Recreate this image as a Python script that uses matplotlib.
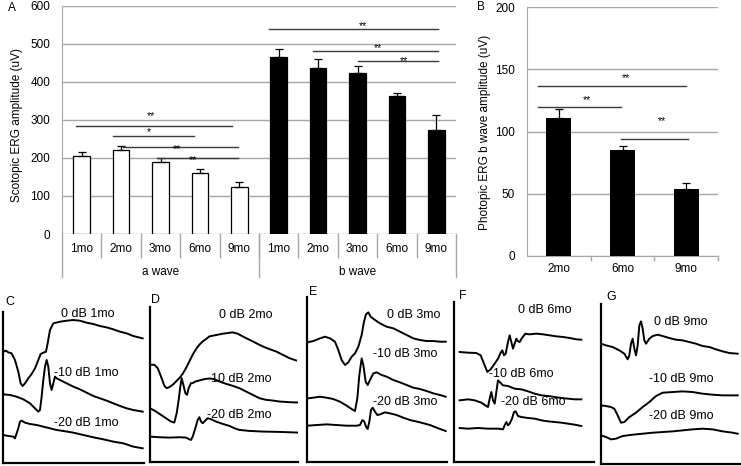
import matplotlib
matplotlib.use("Agg")
import matplotlib.pyplot as plt
import matplotlib.transforms as mtransforms

plt.rcParams['font.family'] = ['Liberation Sans', 'DejaVu Sans']

W, H = 741, 466

# ---- panel A : scotopic ERG ----
a_months = ["1mo", "2mo", "3mo", "6mo", "9mo"]
a_wave = [205, 220, 190, 160, 125]
a_wave_err = [10, 12, 10, 12, 13]
b_wave = [465, 438, 425, 362, 275]
b_wave_err = [23, 22, 18, 10, 38]
groups = ["a wave", "b wave"]
# significance: (x0, x1, y, label, text x, text y)
sig_a = [
    (-0.14, 3.81, 285, "**", 1.76, 310),
    (0.80, 2.86, 258, "*", 1.71, 268),
    (1.06, 3.97, 230, "**", 2.41, 224),
    (1.90, 3.97, 200, "**", 2.82, 195),
    (4.76, 9.05, 539, "**", 7.14, 548),
    (5.86, 9.05, 482, "**", 7.51, 488),
    (7.00, 9.05, 454, "**", 8.19, 454),
]

# ---- panel B : photopic ERG ----
b_months = ["2mo", "6mo", "9mo"]
photopic = [111, 85, 54]
photopic_err = [7, 3.5, 5]
sig_b = [
    (-0.33, 2.0, 136.7, "**", 1.05, 143),
    (-0.33, 0.97, 120, "**", 0.44, 125.6),
    (0.97, 2.02, 93.8, "**", 1.62, 108.3),
]

# ---- panels C-G : ERG traces (time, amplitude in arbitrary units) ----
C_0_t = [0, 8, 15, 25, 35, 45, 52, 58, 65, 75, 85, 95, 105, 112, 120, 128, 133, 140, 150, 170, 190, 210, 230, 250, 270, 290, 310, 330, 350, 370, 390, 418]
C_0_v = [335, 338, 333, 330, 310, 275, 240, 232, 240, 255, 268, 285, 310, 328, 332, 335, 360, 400, 420, 425, 428, 430, 428, 422, 418, 412, 408, 402, 395, 390, 382, 375]
C_10_t = [0, 20, 40, 60, 80, 95, 105, 110, 115, 120, 125, 130, 135, 140, 145, 150, 155, 160, 170, 190, 210, 230, 250, 270, 290, 310, 330, 350, 370, 390, 418]
C_10_v = [207, 205, 200, 192, 180, 165, 155, 160, 200, 250, 290, 310, 290, 240, 220, 240, 260, 255, 250, 240, 230, 222, 212, 202, 195, 188, 180, 172, 165, 160, 155]
C_20_t = [0, 15, 30, 35, 40, 45, 50, 55, 65, 80, 100, 120, 140, 160, 180, 210, 240, 270, 300, 330, 360, 390, 418]
C_20_v = [85, 82, 80, 75, 90, 105, 125, 128, 122, 118, 115, 110, 105, 100, 97, 92, 85, 78, 72, 65, 60, 50, 45]

D_0_t = [0, 13, 23, 33, 43, 50, 58, 68, 78, 88, 98, 108, 118, 128, 138, 148, 158, 168, 178, 188, 203, 218, 233, 248, 263, 278, 298, 318, 338, 358, 378, 398, 418, 438]
D_0_v = [292, 292, 282, 257, 229, 222, 225, 232, 242, 252, 265, 282, 302, 322, 339, 352, 362, 369, 377, 379, 382, 385, 387, 389, 385, 377, 367, 357, 347, 339, 332, 322, 312, 305]
D_10_t = [0, 18, 33, 48, 63, 73, 80, 86, 91, 95, 100, 106, 111, 116, 123, 128, 136, 148, 163, 178, 193, 208, 228, 248, 268, 288, 308, 328, 348, 368, 388, 418, 443]
D_10_v = [162, 152, 142, 132, 122, 119, 147, 187, 227, 252, 232, 207, 202, 222, 237, 237, 242, 245, 249, 251, 249, 242, 235, 229, 222, 212, 202, 192, 187, 185, 182, 180, 179]
D_20_t = [0, 28, 58, 88, 108, 118, 123, 128, 136, 143, 148, 153, 158, 166, 173, 183, 198, 218, 238, 253, 268, 298, 338, 388, 443]
D_20_v = [77, 75, 74, 75, 74, 69, 67, 77, 102, 127, 135, 122, 117, 125, 132, 129, 122, 115, 109, 102, 97, 94, 92, 91, 89]

E_0_t = [0, 18, 38, 53, 68, 83, 93, 103, 113, 123, 133, 143, 153, 163, 170, 176, 183, 190, 203, 218, 238, 258, 278, 298, 318, 338, 358, 378, 398, 415]
E_0_v = [358, 362, 370, 375, 370, 360, 335, 305, 290, 298, 315, 325, 345, 380, 420, 442, 448, 435, 425, 415, 405, 400, 390, 380, 370, 365, 362, 362, 360, 360]
E_10_t = [0, 18, 38, 58, 78, 98, 118, 133, 143, 150, 156, 163, 168, 175, 181, 188, 198, 208, 223, 238, 258, 278, 298, 318, 338, 358, 378, 398, 415]
E_10_v = [190, 192, 195, 192, 188, 180, 168, 158, 152, 190, 260, 310, 290, 240, 230, 245, 265, 268, 260, 255, 245, 238, 230, 222, 218, 212, 205, 200, 195]
E_20_t = [0, 28, 58, 88, 118, 148, 158, 165, 171, 176, 181, 186, 191, 196, 203, 210, 218, 233, 248, 268, 288, 308, 338, 368, 393, 415]
E_20_v = [108, 110, 112, 110, 108, 108, 110, 125, 120, 105, 98, 120, 155, 162, 150, 140, 142, 148, 145, 140, 132, 125, 118, 110, 100, 92]

F_0_t = [17, 42, 67, 80, 90, 100, 110, 122, 132, 140, 145, 150, 155, 162, 167, 172, 177, 182, 187, 192, 197, 204, 214, 227, 247, 267, 287, 307, 327, 347, 367, 382]
F_0_v = [330, 328, 327, 320, 295, 270, 278, 295, 310, 328, 335, 320, 325, 360, 380, 360, 340, 355, 370, 362, 360, 372, 385, 383, 385, 383, 380, 377, 375, 372, 368, 367]
F_10_t = [17, 42, 62, 82, 97, 102, 107, 112, 117, 122, 127, 132, 137, 147, 162, 182, 202, 222, 242, 262, 282, 302, 322, 342, 362, 382]
F_10_v = [185, 188, 185, 178, 168, 165, 190, 210, 185, 175, 210, 245, 240, 230, 228, 220, 218, 212, 205, 200, 198, 195, 192, 190, 188, 188]
F_20_t = [17, 42, 72, 102, 132, 147, 152, 157, 162, 167, 174, 180, 185, 192, 202, 222, 242, 262, 282, 302, 322, 342, 362, 382]
F_20_v = [102, 100, 102, 100, 100, 98, 110, 120, 110, 115, 130, 150, 152, 138, 135, 132, 130, 125, 122, 120, 118, 115, 112, 108]

G_0_t = [0, 15, 35, 55, 70, 80, 85, 90, 95, 100, 105, 110, 115, 120, 125, 130, 135, 145, 155, 170, 185, 205, 225, 245, 265, 285, 305, 325, 345, 365, 385, 410]
G_0_v = [360, 355, 350, 340, 330, 313, 325, 360, 375, 345, 325, 355, 415, 427, 405, 370, 360, 375, 383, 387, 383, 377, 372, 370, 365, 360, 353, 350, 343, 337, 332, 330]
G_10_t = [0, 15, 30, 40, 50, 60, 70, 85, 105, 125, 145, 165, 185, 215, 245, 275, 305, 335, 365, 410]
G_10_v = [175, 173, 170, 165, 145, 123, 125, 140, 153, 170, 185, 203, 213, 215, 217, 215, 210, 207, 205, 205]
G_20_t = [0, 15, 30, 45, 65, 95, 125, 155, 185, 215, 245, 275, 305, 335, 365, 395, 410]
G_20_v = [85, 80, 73, 75, 83, 87, 90, 93, 95, 97, 100, 103, 105, 103, 97, 93, 90]

trace_panels = [
    ("C", "1mo", [(C_0_t, C_0_v), (C_10_t, C_10_v), (C_20_t, C_20_v)]),
    ("D", "2mo", [(D_0_t, D_0_v), (D_10_t, D_10_v), (D_20_t, D_20_v)]),
    ("E", "3mo", [(E_0_t, E_0_v), (E_10_t, E_10_v), (E_20_t, E_20_v)]),
    ("F", "6mo", [(F_0_t, F_0_v), (F_10_t, F_10_v), (F_20_t, F_20_v)]),
    ("G", "9mo", [(G_0_t, G_0_v), (G_10_t, G_10_v), (G_20_t, G_20_v)]),
]
dB_levels = ["0 dB", "-10 dB", "-20 dB"]


def px_rect(l, t, r, b):
    return [l / W, 1 - b / H, (r - l) / W, (b - t) / H]


fig = plt.figure(figsize=(W / 100, H / 100), dpi=100)
fig.patch.set_facecolor("white")

GRID = "#a6a6a6"
SIG = "#3a3a3a"

# -------------------------
# PANEL A
# -------------------------
axA = fig.add_axes(px_rect(62, 6, 456, 234))
xa = list(range(5))
xb = [i + 5 for i in range(5)]
axA.bar(xa, a_wave, width=0.42, color="white", edgecolor="black", linewidth=0.9, zorder=3)
axA.bar(xb, b_wave, width=0.42, color="black", edgecolor="black", linewidth=0.9, zorder=3)
axA.errorbar(xa, a_wave, yerr=[[0] * 5, a_wave_err], fmt="none", ecolor="black",
             elinewidth=0.9, capsize=3, capthick=0.9, zorder=4)
axA.errorbar(xb, b_wave, yerr=[[0] * 5, b_wave_err], fmt="none", ecolor="black",
             elinewidth=0.9, capsize=3, capthick=0.9, zorder=4)
axA.set_xlim(-0.5, 9.5)
axA.set_ylim(0, 600)
axA.set_yticks(range(0, 601, 100))
axA.yaxis.grid(True, color=GRID, linewidth=1)
axA.set_axisbelow(True)
axA.set_xticks([])
axA.tick_params(axis="y", length=0, labelsize=8.5, pad=8.5)
for s in ["top", "right", "bottom"]:
    axA.spines[s].set_visible(False)
axA.spines["left"].set_color(GRID)

tr = mtransforms.blended_transform_factory(axA.transData, axA.transAxes)
for i in range(9):
    axA.plot([i + 0.5, i + 0.5], [0, -0.1], transform=tr, color=GRID, lw=1, clip_on=False)
for xg in [-0.5, 4.5, 9.5]:
    axA.plot([xg, xg], [0, -0.189], transform=tr, color=GRID, lw=1, clip_on=False)
for i, lab in enumerate(a_months + a_months):
    axA.text(i, -0.066, lab, transform=tr, ha="center", va="center", fontsize=8.5)
for g, lab in enumerate(groups):
    axA.text(2 + 5 * g, -0.167, lab, transform=tr, ha="center", va="center", fontsize=8.5)

for x0, x1, y, lab, tx, ty in sig_a:
    axA.plot([x0, x1], [y, y], color=SIG, lw=1, clip_on=False, zorder=5)
    axA.text(tx, ty, lab, ha="center", va="center", fontsize=7.5, zorder=6)

fig.text(17 / W, 1 - 125 / H, "Scotopic ERG amplitude (uV)", rotation=90,
         ha="center", va="center", fontsize=8.5)
fig.text(12 / W, 1 - 8 / H, "A", ha="center", va="center", fontsize=8.5)

# -------------------------
# PANEL B
# -------------------------
axB = fig.add_axes(px_rect(526.7, 7.3, 718.3, 256))
xp = list(range(3))
axB.bar(xp, photopic, width=0.39, color="black", zorder=3)
axB.errorbar(xp, photopic, yerr=[[0] * 3, photopic_err], fmt="none", ecolor="black",
             elinewidth=0.9, capsize=3, capthick=0.9, zorder=4)
axB.set_xlim(-0.5, 2.5)
axB.set_ylim(0, 200)
axB.set_yticks(range(0, 201, 50))
axB.yaxis.grid(True, color=GRID, linewidth=1)
axB.set_axisbelow(True)
axB.set_xticks([])
axB.tick_params(axis="y", length=0, labelsize=8.5, pad=8.5)
for s in ["top", "right"]:
    axB.spines[s].set_visible(False)
axB.spines["left"].set_color(GRID)
axB.spines["bottom"].set_color(GRID)
trB = mtransforms.blended_transform_factory(axB.transData, axB.transAxes)
for xt in [0.5, 1.5, 2.5]:
    axB.plot([xt, xt], [0, -0.015], transform=trB, color=GRID, lw=1, clip_on=False)
for i, lab in enumerate(b_months):
    axB.text(i, -0.052, lab, transform=trB, ha="center", va="center", fontsize=8.5)
for x0, x1, y, lab, tx, ty in sig_b:
    axB.plot([x0, x1], [y, y], color=SIG, lw=1, clip_on=False, zorder=5)
    axB.text(tx, ty, lab, ha="center", va="center", fontsize=7.5, zorder=6)

fig.text(485 / W, 1 - 132 / H, "Photopic ERG b wave amplitude (uV)", rotation=90,
         ha="center", va="center", fontsize=8.5)
fig.text(481 / W, 1 - 7 / H, "B", ha="center", va="center", fontsize=8.5)

# -------------------------
# PANELS C-G
# -------------------------
rects = [
    (3.3, 311.7, 144, 463.3, 422, 455),
    (150, 307, 297.7, 462.3, 443, 465),
    (307.3, 296.7, 446.7, 461.7, 418, 495),
    (454, 302, 594, 462, 420, 480),
    (601, 303.7, 741, 463.7, 420, 480),
]
label_pos = [
    [(252, 448), (248, 270), (248, 120)],
    [(288, 442), (268, 249), (268, 142)],
    [(318, 440), (293, 322), (293, 180)],
    [(272, 455), (202, 265), (237, 180)],
    [(240, 425), (240, 253), (240, 143)],
]
letter_pos = [(10, 302), (155, 300), (313, 292), (463, 296), (611, 297)]

for k, (letter, month, traces) in enumerate(trace_panels):
    l, t, r, b, xmax, ymax = rects[k]
    ax = fig.add_axes(px_rect(l, t, r, b))
    for tt, vv in traces:
        ax.plot(tt, vv, color="black", lw=1.4, solid_joinstyle="round")
    ax.set_xlim(0, xmax)
    ax.set_ylim(0, ymax)
    ax.set_xticks([])
    ax.set_yticks([])
    ax.patch.set_alpha(0)
    for s in ["top", "right"]:
        ax.spines[s].set_visible(False)
    for s in ["left", "bottom"]:
        ax.spines[s].set_linewidth(1.6)
        ax.spines[s].set_color("black")
    for j, (px, py) in enumerate(label_pos[k]):
        ax.text(px, py, f"{dB_levels[j]} {month}", ha="center", va="center", fontsize=9)
    fig.text(letter_pos[k][0] / W, 1 - letter_pos[k][1] / H, letter,
             ha="center", va="center", fontsize=9)

fig.savefig("out.png", dpi=100)
